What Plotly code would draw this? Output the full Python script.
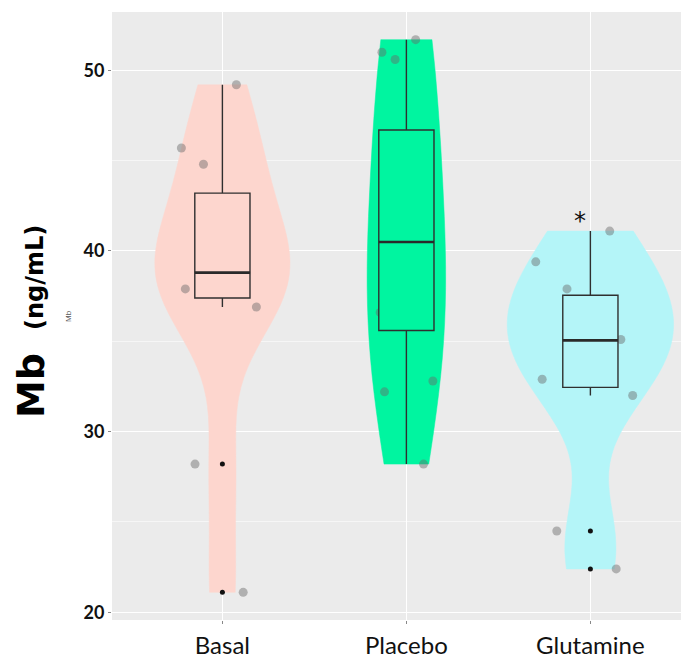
import numpy as np
import plotly.graph_objects as go

# ---------------- data ----------------
categories = ["Basal", "Placebo", "Glutamine"]

basal = [49.2, 45.7, 44.8, 41.8, 39.6, 38.8, 38.3, 37.9, 36.9, 28.2, 21.1]
placebo = [51.7, 51.0, 50.6, 44.3, 41.9, 40.5, 37.2, 36.6, 32.8, 32.2, 28.2]
glutamine = [41.1, 39.4, 37.9, 37.2, 36.0, 35.1, 34.3, 32.9, 32.0, 24.5, 22.4]

box_q1 = [37.4, 35.6, 32.45]
box_median = [38.8, 40.5, 35.05]
box_q3 = [43.2, 46.7, 37.55]
box_lower = [36.9, 28.2, 32.0]
box_upper = [49.2, 51.7, 41.1]

outlier_groups = ["Basal", "Basal", "Glutamine", "Glutamine"]
outlier_values = [28.2, 21.1, 24.5, 22.4]

y_ticks = [20, 30, 40, 50]
y_range = [19.57, 53.23]

# ---------------- styles ----------------
fills = ["#FDD6CE", "#00F5A0", "#B4F5F8"]
series = [basal, placebo, glutamine]
BW_ADJUST = 1.35
MAX_VIOLIN_WIDTH = 0.9


def bw_nrd0(v):
    v = np.asarray(v, dtype=float)
    sd = v.std(ddof=1)
    q75, q25 = np.percentile(v, [75, 25])
    return 0.9 * min(sd, (q75 - q25) / 1.34) * len(v) ** -0.2


def kde_peak(v, bw):
    v = np.asarray(v, dtype=float)
    grid = np.linspace(v.min(), v.max(), 512)
    d = np.exp(-0.5 * ((grid[:, None] - v[None, :]) / bw) ** 2).sum(axis=1)
    return (d / (len(v) * bw * np.sqrt(2 * np.pi))).max()


bws = [bw_nrd0(s) * BW_ADJUST for s in series]
peaks = [kde_peak(s, b) for s, b in zip(series, bws)]
# equal-area scaling (like ggplot's scale = "area")
widths = [MAX_VIOLIN_WIDTH * p / max(peaks) for p in peaks]

fig = go.Figure()

# violins with jittered sample points
for cat, vals, fc, bw, w in zip(categories, series, fills, bws, widths):
    fig.add_trace(go.Violin(
        x=[cat] * len(vals), y=vals, name=cat,
        fillcolor=fc, line=dict(color=fc, width=0.5),
        points="all", jitter=0.9, pointpos=0,
        marker=dict(color="rgba(105,105,105,0.45)", size=9, line=dict(width=0)),
        spanmode="hard", bandwidth=bw,
        scalemode="width", width=w,
        box_visible=False, meanline_visible=False,
        showlegend=False, hoverinfo="skip",
    ))

# boxes
for i, cat in enumerate(categories):
    fig.add_trace(go.Box(
        x=[cat], q1=[box_q1[i]], median=[box_median[i]], q3=[box_q3[i]],
        lowerfence=[box_lower[i]], upperfence=[box_upper[i]],
        orientation="v", fillcolor=fills[i],
        line=dict(color="#2f2f2f", width=1.4),
        width=0.3, whiskerwidth=0, boxpoints=False,
        showlegend=False, hoverinfo="skip",
    ))
    # thicker median line
    fig.add_trace(go.Box(
        x=[cat], q1=[box_median[i]], median=[box_median[i]], q3=[box_median[i]],
        lowerfence=[box_median[i]], upperfence=[box_median[i]],
        orientation="v", fillcolor="rgba(0,0,0,0)",
        line=dict(color="#2a2a2a", width=2.6),
        width=0.3, whiskerwidth=0, boxpoints=False,
        showlegend=False, hoverinfo="skip",
    ))

# box-plot outliers
fig.add_trace(go.Scatter(
    x=outlier_groups, y=outlier_values, mode="markers",
    marker=dict(color="#111111", size=5),
    showlegend=False, hoverinfo="skip",
))

# page geometry (the HTML body adds an 8px offset)
OFF = 8
PAGE_W, PAGE_H = 689, 660
P_LEFT, P_TOP, P_BOTTOM = 112, 12, 620          # panel edges in page pixels
W, H = PAGE_W - OFF, PAGE_H - OFF
L, T, B, R = P_LEFT - OFF, P_TOP - OFF, PAGE_H - P_BOTTOM, 0
pw, ph = PAGE_W - P_LEFT, P_BOTTOM - P_TOP


def px_x(p):
    return (p - P_LEFT) / pw


def px_y(p):
    return (P_BOTTOM - p) / ph


fig.update_layout(
    width=W, height=H,
    margin=dict(l=L, r=R, t=T, b=B, pad=0, autoexpand=False),
    paper_bgcolor="white", plot_bgcolor="#EBEBEB",
    violinmode="overlay", boxmode="overlay",
    xaxis=dict(
        categoryorder="array", categoryarray=categories,
        range=[-0.6, 2.536], automargin=False,
        showgrid=True, gridcolor="white", gridwidth=1.4,
        zeroline=False, showline=False,
        ticks="outside", ticklen=3, tickcolor="#888888", tickwidth=1,
        tickfont=dict(family="Lato", size=24, color="#111111"),
        ticklabelstandoff=1,
    ),
    yaxis=dict(
        range=y_range, tickvals=y_ticks, automargin=False,
        showgrid=True, gridcolor="white", gridwidth=1.4,
        minor=dict(dtick=5, showgrid=True, gridcolor="#F6F6F6", gridwidth=0.8),
        zeroline=False, showline=False,
        ticks="outside", ticklen=3, tickcolor="#888888", tickwidth=1,
        tickfont=dict(family="Lato", size=18, color="#111111", weight="bold"),
    ),
    annotations=[
        dict(text="<b>Mb</b>", xref="paper", yref="paper",
             x=px_x(31), y=px_y(386), textangle=-90, showarrow=False,
             xanchor="center", yanchor="middle",
             font=dict(family="DejaVu Sans", size=38, color="black")),
        dict(text="<b>(ng/mL)</b>", xref="paper", yref="paper",
             x=px_x(35), y=px_y(278), textangle=-90, showarrow=False,
             xanchor="center", yanchor="middle",
             font=dict(family="DejaVu Sans", size=24, color="black")),
        dict(text="Mb", xref="paper", yref="paper",
             x=px_x(68), y=px_y(316), textangle=-90, showarrow=False,
             xanchor="center", yanchor="middle",
             font=dict(family="Liberation Sans", size=8, color="#555555")),
        dict(text="*", xref="x", yref="y",
             x="Glutamine", y=box_upper[2], xshift=-10, yshift=-6,
             showarrow=False, xanchor="center", yanchor="bottom",
             font=dict(family="DejaVu Sans", size=24, color="#111111")),
    ],
)

fig.write_html("out.html")
